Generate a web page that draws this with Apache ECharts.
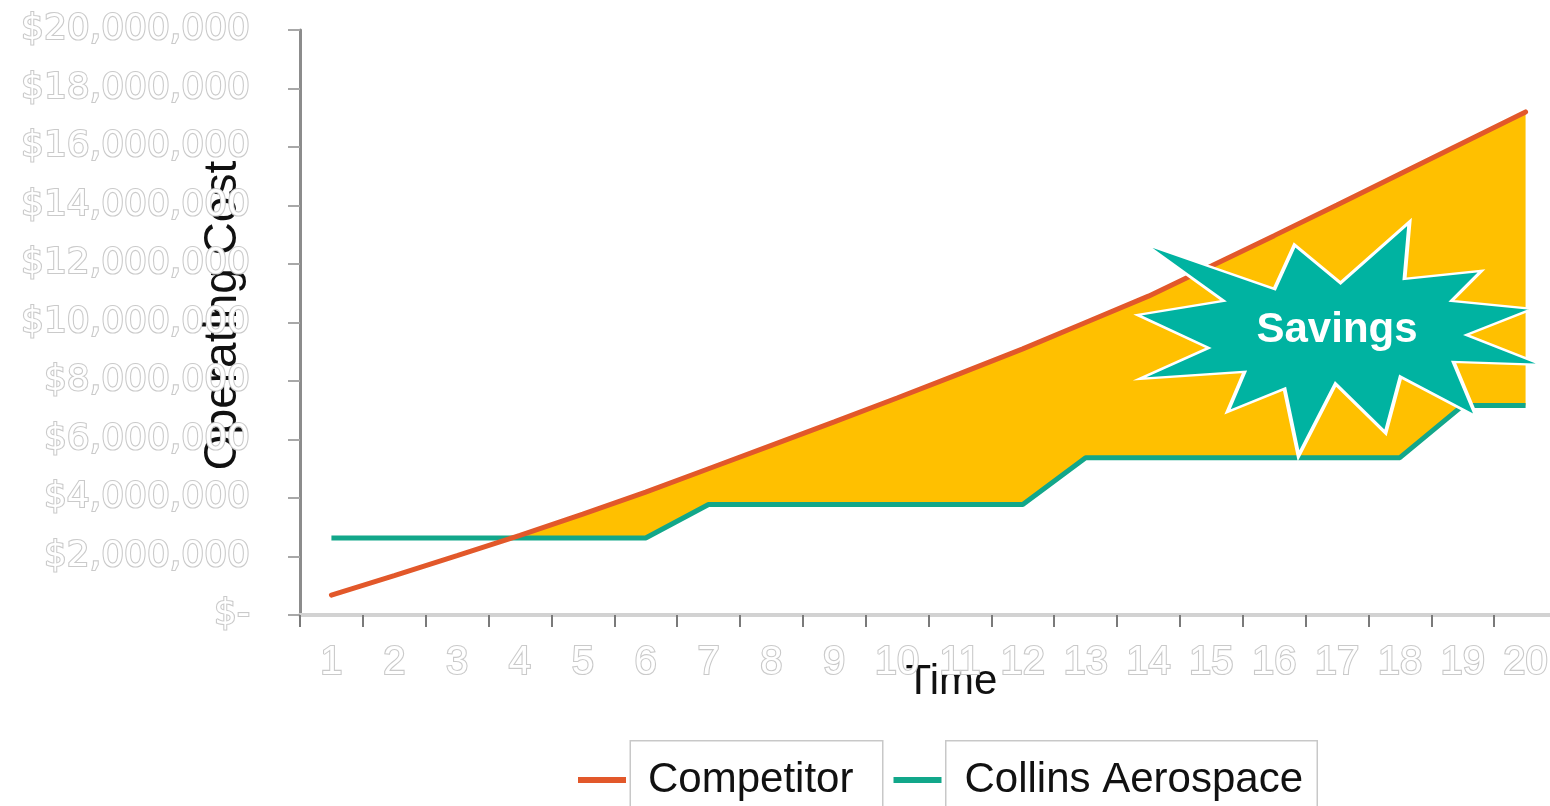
<!DOCTYPE html>
<html>
<head>
<meta charset="utf-8">
<script src="https://cdn.jsdelivr.net/npm/echarts@6/dist/echarts.min.js"></script>
<style>
  html, body { margin: 0; padding: 0; background: #ffffff; }
  #chart { width: 1550px; height: 806px; }
</style>
</head>
<body>
<div id="chart"></div>
<script>
// ---- data ----
const categories = ['1','2','3','4','5','6','7','8','9','10','11','12','13','14','15','16','17','18','19','20'];
const competitor = [680000,1350000,2030000,2720000,3450000,4200000,5000000,5800000,6600000,7420000,
                    8250000,9100000,10000000,10900000,11930000,12970000,14020000,15080000,16140000,17200000];
const collins    = [2630000,2630000,2630000,2630000,2630000,2630000,3780000,3780000,3780000,3780000,
                    3780000,3780000,5380000,5380000,5380000,5380000,5380000,5380000,7160000,7160000];
const yMin = 0, yMax = 20000000, yStep = 2000000;
const seriesNames = ['Competitor', 'Collins Aerospace'];
const calloutText = 'Savings';
const calloutAnchor = ['17', 9440000];

// gap between the two series (filled "savings" band)
const savingsGap = competitor.map((v, i) => Math.max(0, v - collins[i]));

const starPath = 'path://M-192,-87L-62,-42L-42,-86L4,-48L73,-109L68,-52L145,-60L115,-30L196,-22L130,4L206,34L117,31L140,86L64,46L49,102L-1,53L-38,125L-52,58L-109,81L-92,41L-197,48L-128,17L-199,-16L-113,-30Z';

const hollow = { color: '#ffffff', textBorderColor: '#cacaca', textBorderWidth: 2.2 };

const chart = echarts.init(document.getElementById('chart'), null, { renderer: 'canvas' });
chart.setOption({
  animation: false,
  backgroundColor: '#ffffff',
  grid: { left: 300, top: 30, width: 1257, height: 585, containLabel: false, outerBoundsMode: 'none' },
  legend: {
    left: 573, top: 735,
    icon: 'rect', itemWidth: 48, itemHeight: 6, itemGap: 10,
    textStyle: {
      fontFamily: 'Liberation Sans, Arial, sans-serif', fontSize: 42, color: '#111',
      lineHeight: 50, backgroundColor: '#ffffff', borderColor: '#c8c8c8', borderWidth: 1.5
    },
    data: [
      { name: seriesNames[0], textStyle: { width: 234, padding: [13, 0, 14, 17] } },
      { name: seriesNames[1], textStyle: { width: 352, padding: [13, 0, 14, 18] } }
    ]
  },
  xAxis: {
    type: 'category', data: categories, boundaryGap: true,
    axisLine: { show: true, lineStyle: { color: '#d2d2d2', width: 4 } },
    axisTick: { show: true, length: 12, lineStyle: { color: '#7a7a7a', width: 2 } },
    axisLabel: Object.assign({ margin: 28, fontSize: 40, fontFamily: 'Liberation Sans Narrow, Liberation Sans, Arial, sans-serif' }, hollow),
    splitLine: { show: false },
    name: 'Time', nameLocation: 'middle', nameGap: 46, nameMoveOverlap: false,
    nameTextStyle: { fontSize: 42, color: '#111', fontFamily: 'Liberation Sans, Arial, sans-serif', padding: [0, 0, 0, 46] }
  },
  yAxis: {
    type: 'value', min: yMin, max: yMax, interval: yStep,
    axisLine: { show: true, lineStyle: { color: '#8c8c8c', width: 3 } },
    axisTick: { show: true, length: 12, lineStyle: { color: '#a8a8a8', width: 2 } },
    splitLine: { show: false },
    axisLabel: Object.assign({
      margin: 50, fontSize: 36, fontFamily: 'DejaVu Sans, sans-serif',
      formatter: v => v === 0 ? '$-' : '$' + v.toLocaleString('en-US')
    }, hollow),
    name: 'Operating Cost', nameLocation: 'middle', nameRotate: 90, nameGap: 54, nameMoveOverlap: false,
    nameTextStyle: { fontSize: 46, color: '#111', fontFamily: 'Liberation Sans, Arial, sans-serif', padding: [0, 0, 0, 14] }
  },
  series: [
    { name: '_base', type: 'line', stack: 'band', data: collins, symbol: 'none', silent: true,
      lineStyle: { width: 0, opacity: 0 }, z: 1 },
    { name: '_gap', type: 'line', stack: 'band', data: savingsGap, symbol: 'none', silent: true,
      lineStyle: { width: 0, opacity: 0 }, areaStyle: { color: '#FFC000', opacity: 1 }, z: 1 },
    { name: seriesNames[1], type: 'line', data: collins, symbol: 'none',
      lineStyle: { color: '#12A78A', width: 5 }, itemStyle: { color: '#12A78A' }, z: 3 },
    { name: seriesNames[0], type: 'line', data: competitor, symbol: 'none',
      lineStyle: { color: '#E2582A', width: 5, cap: 'round' }, itemStyle: { color: '#E2582A' }, z: 4 },
    { name: '_callout', type: 'scatter', data: [calloutAnchor], silent: true,
      symbol: starPath, symbolSize: [405, 234], symbolOffset: [3, 0],
      itemStyle: { color: '#00B3A1', borderColor: '#ffffff', borderWidth: 3, opacity: 1 },
      label: { show: true, position: 'inside', offset: [-3, -8], formatter: calloutText,
               color: '#ffffff', fontSize: 42, fontWeight: 'bold', fontFamily: 'Liberation Sans, Arial, sans-serif' },
      z: 6 }
  ]
});
</script>
</body>
</html>
